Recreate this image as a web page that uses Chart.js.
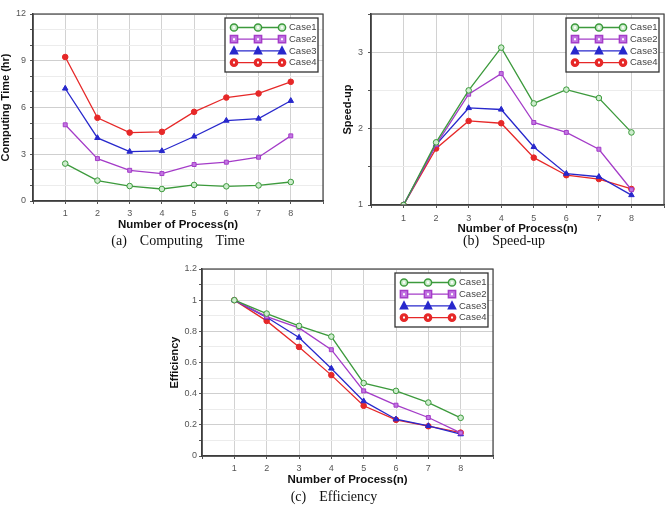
<!DOCTYPE html>
<html><head><meta charset="utf-8">
<script src="https://cdn.jsdelivr.net/npm/chart.js@4/dist/chart.umd.min.js"></script>
<style>
html,body{margin:0;padding:0;background:#fff;}
body{width:669px;height:508px;position:relative;overflow:hidden;}
canvas{position:absolute;}
.cap{position:absolute;font-family:"Liberation Serif","DejaVu Serif",serif;font-size:14px;color:#111;white-space:pre;transform:translate(-50%,-50%);word-spacing:3px;}
</style></head>
<body>
<canvas id="ca" width="335" height="236" style="left:0;top:0;width:335px;height:236px"></canvas>
<canvas id="cb" width="334" height="236" style="left:335px;top:0;width:334px;height:236px"></canvas>
<canvas id="cc" width="340" height="234" style="left:160px;top:256px;width:340px;height:234px"></canvas>
<div class="cap" style="left:178px;top:241px">(a)  Computing  Time</div>
<div class="cap" style="left:504px;top:241px">(b)  Speed-up</div>
<div class="cap" style="left:334px;top:497px">(c)  Efficiency</div>
<script>
// ---- data ----
const processes = [1, 2, 3, 4, 5, 6, 7, 8];
const caseNames = ['Case1', 'Case2', 'Case3', 'Case4'];

const timeCase1 = [2.40, 1.31, 0.96, 0.77, 1.03, 0.94, 1.00, 1.22];
const timeCase2 = [4.89, 2.72, 1.97, 1.76, 2.34, 2.49, 2.81, 4.18];
const timeCase3 = [7.22, 4.05, 3.17, 3.21, 4.14, 5.16, 5.29, 6.43];
const timeCase4 = [9.24, 5.34, 4.39, 4.44, 5.72, 6.64, 6.90, 7.65];

const speedCase1 = [1.00, 1.82, 2.50, 3.06, 2.33, 2.51, 2.40, 1.95];
const speedCase2 = [1.00, 1.79, 2.45, 2.72, 2.08, 1.95, 1.73, 1.20];
const speedCase3 = [1.00, 1.79, 2.27, 2.25, 1.76, 1.41, 1.37, 1.13];
const speedCase4 = [1.00, 1.74, 2.10, 2.07, 1.62, 1.39, 1.34, 1.21];

const effCase1 = [1.00, 0.914, 0.835, 0.766, 0.468, 0.418, 0.343, 0.245];
const effCase2 = [1.00, 0.895, 0.822, 0.682, 0.418, 0.326, 0.247, 0.148];
const effCase3 = [1.00, 0.890, 0.760, 0.562, 0.352, 0.236, 0.193, 0.140];
const effCase4 = [1.00, 0.867, 0.700, 0.519, 0.322, 0.232, 0.191, 0.150];

// ---- styles ----
const styles = [
  {color:'#3c9a3c', fill:'#cdeccd', shape:'circle',   r:2.8},
  {color:'#a43cc8', fill:'#c276e2', shape:'rect',     r:2.8},
  {color:'#2828cc', fill:'#2828cc', shape:'triangle', r:3.2},
  {color:'#e62828', fill:'#e62828', shape:'circle',   r:2.8}
];

function makeDatasets(series){
  return series.map((vals, i) => ({
    label: caseNames[i],
    data: processes.map((p, j) => ({x: p, y: vals[j]})),
    borderColor: styles[i].color,
    backgroundColor: styles[i].fill,
    pointBorderColor: styles[i].color,
    pointBackgroundColor: styles[i].fill,
    pointStyle: styles[i].shape,
    pointRadius: styles[i].r,
    pointBorderWidth: 1,
    borderWidth: 1.3,
    tension: 0
  }));
}

function drawMarker(ctx, st, x, y, r){
  ctx.save();
  ctx.fillStyle = st.fill; ctx.strokeStyle = st.color; ctx.lineWidth = 1.5;
  ctx.beginPath();
  if (st.shape === 'circle') { ctx.arc(x, y, r, 0, Math.PI*2); }
  else if (st.shape === 'rect') { ctx.rect(x-r, y-r, 2*r, 2*r); }
  else if (st.shape === 'triangle') { ctx.moveTo(x, y-r*1.1); ctx.lineTo(x+r, y+r*0.8); ctx.lineTo(x-r, y+r*0.8); ctx.closePath(); }
  ctx.fill(); ctx.stroke();
  if (st.shape !== 'triangle') { ctx.fillStyle = '#fff'; ctx.beginPath(); ctx.rect(x-1, y-1, 2, 2); ctx.fill(); }
  ctx.restore();
}

const framePlugin = {
  id: 'frame',
  afterDraw(chart){
    const {ctx, chartArea: a} = chart;
    ctx.save();
    ctx.strokeStyle = '#444'; ctx.lineWidth = 1.2;
    ctx.strokeRect(a.left, a.top, a.right - a.left, a.bottom - a.top);
    // legend
    const bw = 93, bh = 54;
    const bx = a.right - 5 - bw, by = a.top + 4;
    ctx.fillStyle = '#fff';
    ctx.fillRect(bx, by, bw, bh);
    ctx.strokeStyle = '#333'; ctx.lineWidth = 1.3;
    ctx.strokeRect(bx, by, bw, bh);
    ctx.font = '9.5px "Liberation Sans", Arial, sans-serif';
    ctx.textBaseline = 'middle';
    chart.data.datasets.forEach((ds, i) => {
      const st = styles[i];
      const y = by + 9.5 + i * 11.7;
      const x0 = bx + 9, x1 = x0 + 48;
      ctx.strokeStyle = st.color; ctx.lineWidth = 1.3;
      ctx.beginPath(); ctx.moveTo(x0, y); ctx.lineTo(x1, y); ctx.stroke();
      [x0, x0 + 24, x1].forEach(x => drawMarker(ctx, st, x, y, 3.6));
      ctx.fillStyle = '#444';
      ctx.fillText(ds.label, bx + 64, y);
    });
    ctx.restore();
  }
};

function near(v, step){ return Math.abs(v/step - Math.round(v/step)) < 1e-6; }

function makeChart(id, series, cfg){
  return new Chart(document.getElementById(id), {
    type: 'line',
    data: { datasets: makeDatasets(series) },
    plugins: [framePlugin],
    options: {
      responsive: false, animation: false, devicePixelRatio: 1,
      layout: { padding: cfg.padding },
      plugins: { legend: {display: false}, tooltip: {enabled: false} },
      scales: {
        x: {
          type: 'linear', min: 0, max: 9,
          ticks: { stepSize: 1, autoSkip: false, padding: cfg.xTickPad, color: '#555',
                   font: {size: 9, family: '"Liberation Sans", Arial, sans-serif'},
                   callback: v => (v === 0 || v === 9) ? '' : String(v) },
          grid: { color: '#d2d2d2', tickLength: 3, tickColor: '#555', lineWidth: 1 },
          border: { color: '#333', width: 1.5 },
          title: { display: true, text: 'Number of Process(n)', color: '#111',
                   font: {size: 11.5, weight: 'bold', family: '"Liberation Sans", Arial, sans-serif', lineHeight: 1.2},
                   padding: {top: 0, bottom: cfg.xTitlePad} },
          afterFit: s => { s.height = cfg.xHeight; }
        },
        y: {
          type: 'linear', min: cfg.yMin, max: cfg.yMax,
          ticks: { stepSize: cfg.minor, autoSkip: false, padding: cfg.yTickPad, color: '#555',
                   font: {size: 9, family: '"Liberation Sans", Arial, sans-serif'},
                   callback: v => near(v, cfg.major) ? String(Math.round(v*10)/10) : '' },
          grid: { color: c => near(c.tick.value, cfg.major) ? '#cfcfcf' : '#ececec',
                  tickLength: 3, tickColor: '#555', lineWidth: 1 },
          border: { color: '#333', width: 1.5 },
          title: { display: true, text: cfg.yTitle, color: '#111',
                   font: {size: 11, weight: 'bold', family: '"Liberation Sans", Arial, sans-serif', lineHeight: 1},
                   padding: {top: cfg.yTitlePad, bottom: 0} },
          afterFit: s => { s.width = cfg.yWidth; }
        }
      }
    }
  });
}

makeChart('ca', [timeCase1, timeCase2, timeCase3, timeCase4], {
  padding: {top: 14, right: 12, left: 0, bottom: 0},
  yMin: 0, yMax: 12, minor: 1, major: 3, yTitle: 'Computing Time (hr)',
  xHeight: 35, yWidth: 33, xTickPad: 4, yTickPad: 4, xTitlePad: 4, yTitlePad: 0
});
makeChart('cb', [speedCase1, speedCase2, speedCase3, speedCase4], {
  padding: {top: 14, right: 2, left: 0, bottom: 0},
  yMin: 1, yMax: 3.5, minor: 0.5, major: 1, yTitle: 'Speed-up',
  xHeight: 31, yWidth: 36, xTickPad: 5, yTickPad: 5, xTitlePad: 0, yTitlePad: 7
});
makeChart('cc', [effCase1, effCase2, effCase3, effCase4], {
  padding: {top: 13, right: 7, left: 0, bottom: 0},
  yMin: 0, yMax: 1.2, minor: 0.1, major: 0.2, yTitle: 'Efficiency',
  xHeight: 34, yWidth: 42, xTickPad: 4, yTickPad: 2, xTitlePad: 3, yTitlePad: 9
});
</script>
</body></html>
